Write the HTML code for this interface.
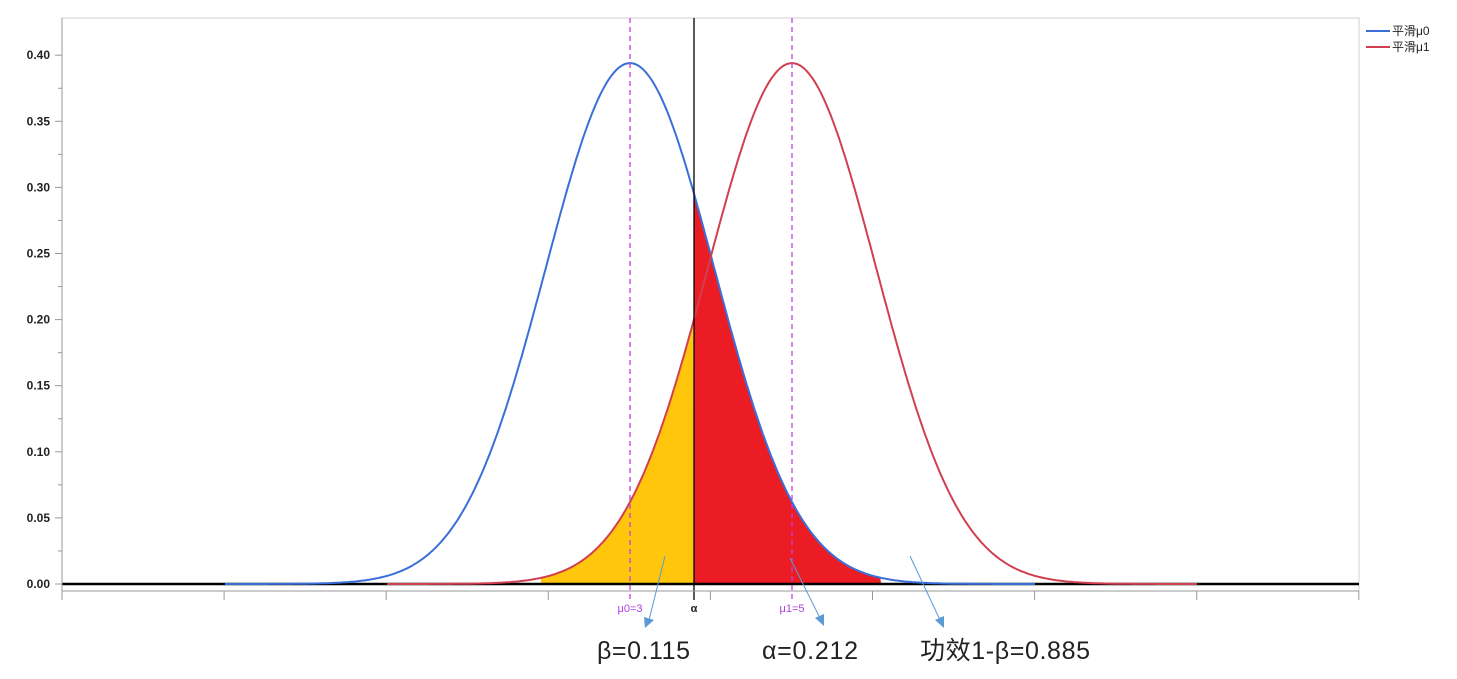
<!DOCTYPE html>
<html><head><meta charset="utf-8"><style>
body{margin:0;background:#fff;width:1457px;height:679px;overflow:hidden;font-family:"Liberation Sans","Noto Sans CJK SC",sans-serif}
</style></head><body>
<svg id="s" width="1457" height="679" xmlns="http://www.w3.org/2000/svg" style="position:absolute;left:0;top:0">
<rect x="62" y="18" width="1297" height="573" fill="none" stroke="#d0d0d0"/>
<g id="fills"></g>
<line x1="62" y1="584" x2="1359" y2="584" stroke="#000" stroke-width="2.5"/>
<g id="curves"></g>
<line x1="630" y1="18" x2="630" y2="600" stroke="#c040e0" stroke-width="1.3" stroke-dasharray="5,4"/>
<line x1="792" y1="18" x2="792" y2="600" stroke="#c040e0" stroke-width="1.3" stroke-dasharray="5,4"/>
<line x1="694" y1="18" x2="694" y2="600" stroke="#000" stroke-width="1.3"/>
<line x1="62" y1="591" x2="1359" y2="591" stroke="#999"/>
<line x1="62" y1="18" x2="62" y2="591" stroke="#999"/>
<g id="ticks" stroke="#999"></g>
<g font-size="12" fill="#222" text-anchor="end" font-weight="bold" id="ylab"></g>
<g font-size="11" fill="#b040e0" text-anchor="middle">
<text x="630" y="612">μ0=3</text><text x="792" y="612">μ1=5</text></g>
<text x="694" y="612" font-size="11" fill="#222" text-anchor="middle" font-weight="bold">α</text>
<g stroke="#5b9bd5" stroke-width="1"><line x1="665" y1="556" x2="649" y2="620"/><line x1="790" y1="558" x2="820" y2="618"/><line x1="910" y1="556" x2="940" y2="620"/></g>
<g fill="#5b9bd5"><polygon points="645,628 644,617 654,620"/><polygon points="824,626 815,618 824,614"/><polygon points="944,628 935,620 944,616"/></g>
<g font-size="25" fill="#222"><text x="597" y="659" textLength="93">β=0.115</text><text x="762" y="659" textLength="96">α=0.212</text><text x="920" y="659" textLength="170">功效1-β=0.885</text></g>
<line x1="1366" y1="31" x2="1390" y2="31" stroke="#3a6fd8" stroke-width="2"/>
<line x1="1366" y1="47" x2="1390" y2="47" stroke="#d04050" stroke-width="2"/>
<g font-size="12" fill="#222"><text x="1392" y="35">平滑μ0</text><text x="1392" y="51">平滑μ1</text></g>
</svg>
<script>
var NS="http://www.w3.org/2000/svg";
var S=1.04;
function X(v){return 387+81*v}
function Y(p){return 584-1322*p}
function pdf(v,m){var z=(v-m)/S;return 0.394*Math.exp(-z*z/2)}
function path(m,a,b){var d="";for(var v=a;v<=b+1e-9;v+=0.02){d+=(d?"L":"M")+X(v).toFixed(1)+","+Y(pdf(v,m)).toFixed(1)}return d}
var al=(694-387)/81;
function fillp(m,a,b,c){var e=document.createElementNS(NS,"path");e.setAttribute("d",path(m,a,b)+"L"+X(b)+",584L"+X(a)+",584Z");e.setAttribute("fill",c);document.getElementById("fills").appendChild(e)}
fillp(5,1.9,al,"#ffc60b");fillp(3,al,6.1,"#ec1c24");
function cur(m,a,b,c){var e=document.createElementNS(NS,"path");e.setAttribute("d",path(m,a,b));e.setAttribute("fill","none");e.setAttribute("stroke",c);e.setAttribute("stroke-width","2");document.getElementById("curves").appendChild(e)}
cur(3,-2,8,"#3a6fd8");cur(5,0,10,"#d04050");
var t=document.getElementById("ticks"),yl=document.getElementById("ylab");
for(var i=0;i<=8;i++){var l=document.createElementNS(NS,"line");var x=62+i*162.1;l.setAttribute("x1",x);l.setAttribute("x2",x);l.setAttribute("y1",591);l.setAttribute("y2",600);t.appendChild(l)}
for(var k=0;k<=16;k++){var p=k*0.025,y=584-1322*p;var l=document.createElementNS(NS,"line");l.setAttribute("x1",k%2?58:55);l.setAttribute("x2",62);l.setAttribute("y1",y);l.setAttribute("y2",y);t.appendChild(l);
if(k%2==0){var tx=document.createElementNS(NS,"text");tx.setAttribute("x",50);tx.setAttribute("y",y+4);tx.textContent=p.toFixed(2);yl.appendChild(tx)}}
</script>
</body></html>
